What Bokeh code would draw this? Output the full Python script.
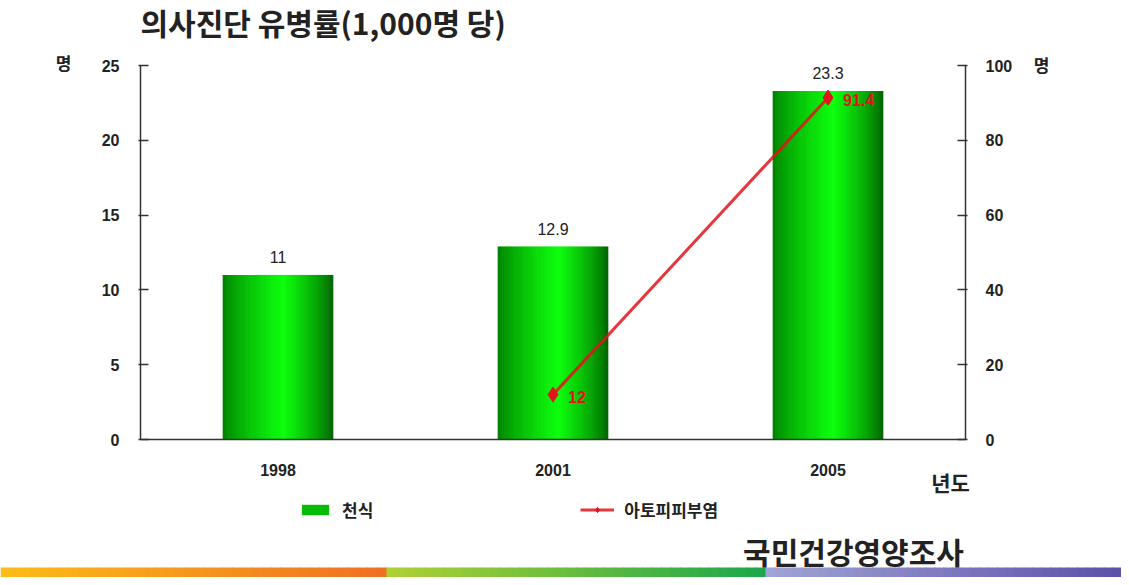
import numpy as np
from bokeh.plotting import figure
from bokeh.models import (ColumnDataSource, Range1d, LinearAxis, FixedTicker,
                          Legend, LegendItem)
from bokeh.embed import file_html
from bokeh.resources import INLINE
from bokeh.core.properties import value

# ---------------- data ----------------
years = ["1998", "2001", "2005"]
asthma = [11, 12.9, 23.3]                 # 천식 (left axis, 명)
atopy_years = ["2001", "2005"]
atopy = [12, 91.4]                        # 아토피피부염 (right axis, 명)
left_ticks = [0, 5, 10, 15, 20, 25]
right_ticks = [0, 20, 40, 60, 80, 100]
title_text = "의사진단 유병률(1,000명 당)"
source_text = "국민건강영양조사"
unit_text = "명"
xlabel_text = "년도"
legend_labels = ["천식", "아토피피부염"]

KR = "Noto Sans CJK KR"
NUM = "Liberation Sans"
DARK = "#222222"
RED = "#e0141a"

# ---------------- layout (pixels) ----------------
W, H = 1121, 577
PL, PR, PT, PB = 140, 965, 65, 439           # plot-area edges on the canvas
n = len(years)
cat_px = (PR - PL) / n
ymax_l, ymax_r = left_ticks[-1], right_ticks[-1]
ppu = (PB - PT) / ymax_l

x0 = -0.5 - PL / cat_px
x1 = n - 0.5 + (W - PR) / cat_px
y0 = -(H - PB) / ppu
y1 = ymax_l + PT / ppu
k = ymax_r / ymax_l

p = figure(width=W, height=H, output_backend="svg", toolbar_location=None,
           x_range=Range1d(x0, x1), y_range=Range1d(y0, y1), min_border=0)
p.outline_line_color = None
p.xgrid.grid_line_color = None
p.ygrid.grid_line_color = None
p.background_fill_color = "white"
p.border_fill_color = "white"
p.extra_y_ranges = {"right": Range1d(y0 * k, y1 * k), "px": Range1d(H, 0)}
p.extra_x_ranges = {"px": Range1d(0, W)}

# ---- decorative colour band at the bottom ----
segments = [(0, 386, (251, 188, 24), (240, 112, 34)),
            (386, 765, (174, 208, 52), (28, 168, 74)),
            (765, W, (160, 163, 213), (92, 82, 168))]
L, R, C = [], [], []
for a, b_, c1, c2 in segments:
    m = 40
    for j in range(m):
        t = j / (m - 1)
        L.append(a + (b_ - a) * j / m)
        R.append(a + (b_ - a) * (j + 1) / m + 0.8)
        cc = [c1[q] + (c2[q] - c1[q]) * t for q in range(3)]
        C.append("#%02x%02x%02x" % tuple(int(round(v)) for v in cc))
p.quad(left=L, right=R, bottom=H, top=567, fill_color=C, line_color=None,
       x_range_name="px", y_range_name="px")

# ---- bars with horizontal gradient (many thin slices) ----
N = 50
bw = 0.4
xs, tops, cols = [], [], []
for i, v in enumerate(asthma):
    for s in range(N):
        t = (s + 0.5) / N
        c = 0.55
        if t < c:
            b = 1 - (c - t) / c
            edge = np.array([0, 125, 0])
        else:
            b = 1 - (t - c) / (1 - c)
            edge = np.array([0, 95, 0])
        b = b ** 0.75
        center = np.array([12, 255, 12])
        col = edge + (center - edge) * b
        xs.append(i - bw / 2 + t * bw)
        tops.append(v)
        cols.append("#%02x%02x%02x" % tuple(int(round(q)) for q in col))
bar_src = ColumnDataSource(dict(x=xs, top=tops, color=cols))
bars = p.vbar(x="x", top="top", bottom=0, width=bw / N * 1.3, source=bar_src,
              fill_color="color", line_color=None)

# bar value labels
lab_src = ColumnDataSource(dict(x=list(range(n)), y=asthma,
                                t=[("%g" % v) for v in asthma]))
p.text(x="x", y="y", text="t", source=lab_src, text_align="center",
       text_baseline="middle", y_offset=-18, text_font=value(NUM),
       text_font_size="16px", text_color=DARK)

# ---- atopy line (right axis) ----
ax_idx = [years.index(y) for y in atopy_years]
line_src = ColumnDataSource(dict(x=ax_idx, y=atopy, t=[("%g" % v) for v in atopy]))
ln = p.line(x="x", y="y", source=line_src, y_range_name="right",
            line_color=RED, line_width=3, line_alpha=0.85)
mk = p.scatter(x="x", y="y", source=line_src, y_range_name="right", marker="diamond",
               size=15, fill_color=RED, line_color=RED)
p.text(x="x", y="y", text="t", source=line_src, y_range_name="right",
       x_offset=15, y_offset=2, text_align="left", text_baseline="middle",
       text_font=value(NUM), text_font_size="16px", text_font_style="bold",
       text_color=RED)

# ---- axes ----
def style_axis(ax):
    ax.axis_line_color = "#333333"
    ax.axis_line_width = 1.5
    ax.major_tick_line_color = "#333333"
    ax.major_tick_line_width = 1.5
    ax.minor_tick_line_color = None
    ax.major_label_text_font = NUM
    ax.major_label_text_font_size = "16px"
    ax.major_label_text_font_style = "bold"
    ax.major_label_text_color = DARK

yl = p.yaxis[0]
yl.ticker = FixedTicker(ticks=left_ticks)
yl.fixed_location = -0.5
yl.bounds = (0, ymax_l)
style_axis(yl)
yl.major_tick_in = 8
yl.major_tick_out = 2
yl.major_label_standoff = 19

yr = LinearAxis(y_range_name="right", ticker=FixedTicker(ticks=right_ticks),
                fixed_location=n - 0.5, bounds=(0, ymax_r))
style_axis(yr)
yr.major_tick_in = 8
yr.major_tick_out = 2
yr.major_label_standoff = 18
p.add_layout(yr, "right")

xa = p.xaxis[0]
xa.ticker = FixedTicker(ticks=list(range(n)))
xa.major_label_overrides = {i: y for i, y in enumerate(years)}
xa.fixed_location = 0
xa.bounds = (-0.5, n - 0.5)
style_axis(xa)
xa.major_tick_in = 0
xa.major_tick_out = 0
xa.major_label_standoff = 24

# ---- legend ----
legend = Legend(items=[LegendItem(label=legend_labels[0], renderers=[bars], index=N // 5),
                       LegendItem(label=legend_labels[1], renderers=[ln, mk])],
                location=(298, 55), orientation="horizontal",
                glyph_width=34, glyph_height=13, label_standoff=10, spacing=207,
                padding=0, margin=0, border_line_alpha=0, background_fill_alpha=0,
                label_text_font=KR, label_text_font_size="17px",
                label_text_font_style="bold", label_text_color=DARK)
p.add_layout(legend, "center")

# ---- other texts (canvas pixel coordinates) ----
tx_src = ColumnDataSource(dict(
    x=[PL, 63, 1041, 950, 853],
    y=[21, 62, 64, 481, 550],
    t=[title_text, unit_text, unit_text, xlabel_text, source_text],
    size=["30px", "17px", "17px", "21px", "30px"],
    align=["left", "center", "center", "center", "center"]))
p.text(x="x", y="y", text="t", source=tx_src, x_range_name="px", y_range_name="px",
       text_font=value(KR), text_font_size="size", text_font_style="bold",
       text_align="align", text_baseline="middle", text_color=DARK)

open("out.html", "w").write(file_html(p, INLINE))
